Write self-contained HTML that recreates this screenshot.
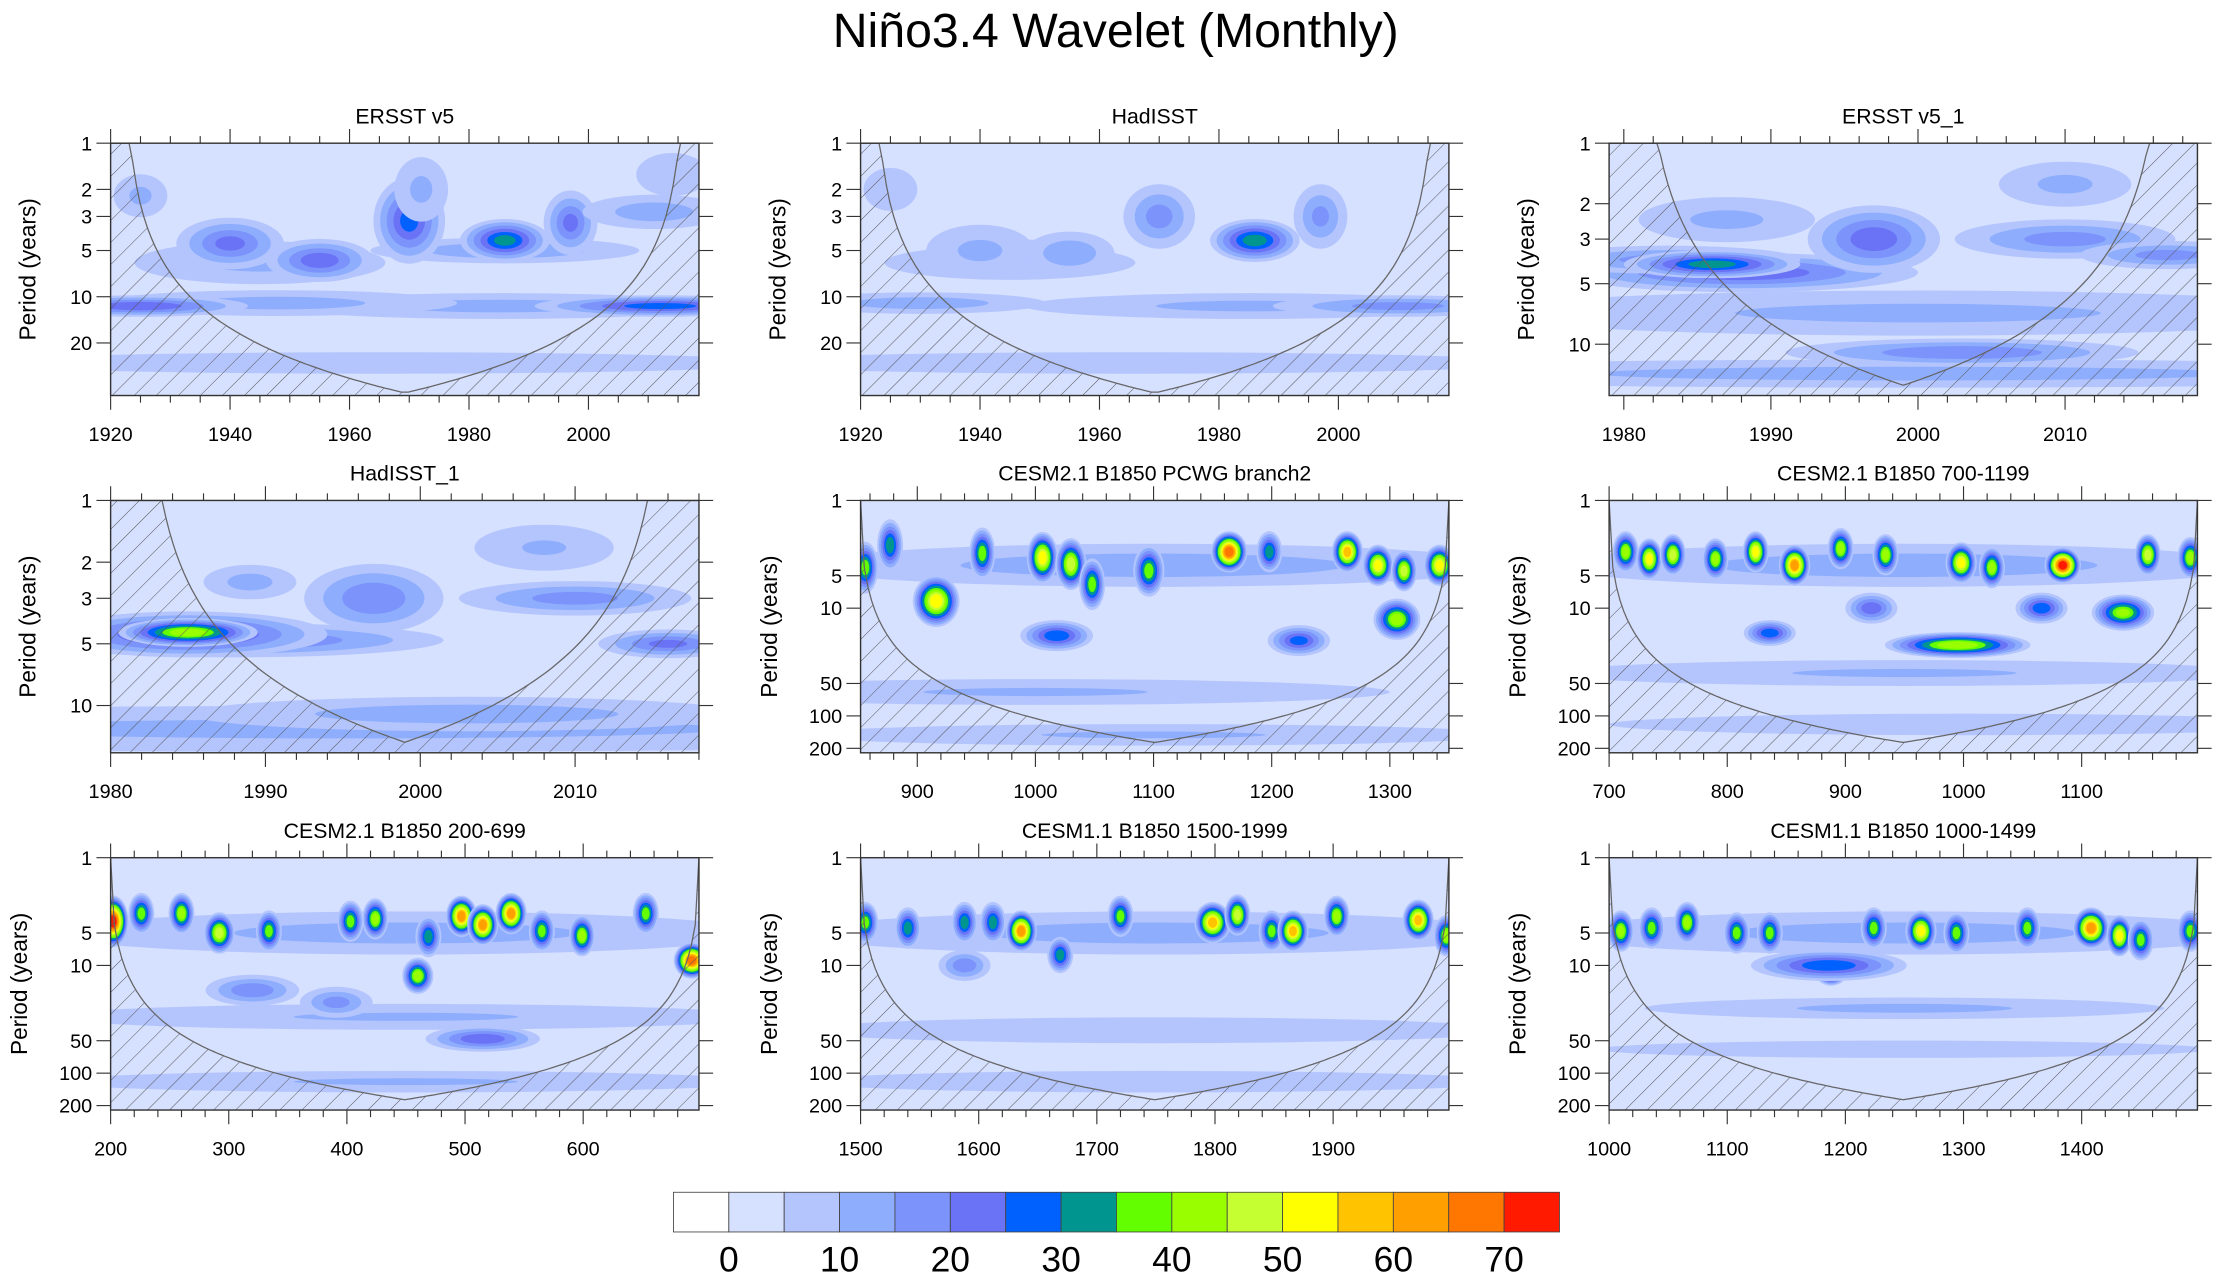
<!DOCTYPE html>
<html><head><meta charset="utf-8">
<style>
html,body{margin:0;padding:0;background:#fff;}
svg{display:block;font-family:"Liberation Sans",sans-serif;}
</style></head>
<body>
<svg id="fig" width="2223" height="1283" viewBox="0 0 1568 905" xmlns="http://www.w3.org/2000/svg">
<defs>
<pattern id="hatch" patternUnits="userSpaceOnUse" width="11" height="11" patternTransform="rotate(45)">
<line x1="0" y1="0" x2="0" y2="11" stroke="#555" stroke-width="0.7"/>
</pattern>
</defs>
<text x="787" y="33" font-size="34" text-anchor="middle">Niño3.4 Wavelet (Monthly)</text>
</svg>
<script>
const NS="http://www.w3.org/2000/svg";
const svg=document.getElementById('fig');
const colors=["#ffffff","#d6e0ff","#b4c5fe","#8eaefd","#7b93fb","#6a72f5","#0061ff","#00968f","#63ff00","#99ff00","#c5ff31","#ffff00","#ffc300","#ffa000","#ff7700","#ff1a00"];
const cbLabels=["0","10","20","30","40","50","60","70"];

const titles=["ERSST v5","HadISST","ERSST v5_1","HadISST_1","CESM2.1 B1850 PCWG branch2","CESM2.1 B1850 700-1199","CESM2.1 B1850 200-699","CESM1.1 B1850 1500-1999","CESM1.1 B1850 1000-1499"];
const xMin=[1920,1920,1979,1980,852,700,200,1500,1000];
const xMax=[2018.5,2018.5,2019,2018,1350,1198,698,1998,1498];
const pMax=[44,44,18,17,220,220,220,220,220];
const xTicks=[[1920,1940,1960,1980,2000],[1920,1940,1960,1980,2000],[1980,1990,2000,2010],[1980,1990,2000,2010],[900,1000,1100,1200,1300],[700,800,900,1000,1100],[200,300,400,500,600],[1500,1600,1700,1800,1900],[1000,1100,1200,1300,1400]];
const xMinorStep=[5,5,2,2,20,20,20,20,20];
const yTicks=[[1,2,3,5,10,20],[1,2,3,5,10,20],[1,2,3,5,10],[1,2,3,5,10],[1,5,10,50,100,200],[1,5,10,50,100,200],[1,5,10,50,100,200],[1,5,10,50,100,200],[1,5,10,50,100,200]];

// Blob data: time, period, value, half-width (yrs), half-height (decades)
const blobT=[
[1965,1945,1985,1948,1925,2012,1925,1986,1940,1955,1970,1986,1997,2011,1972,2014],
[1965,1945,1985,1930,2010,1948,1925,1940,1955,1970,1997,1986],
[2000,2000,2003,1988,1983,1986,1997,2010,2017,1987,2010],
[1995,2003,1988,1985,1985,1997,2010,2016,1989,2008],
[1100,1000,1100,856,877,916,955,1006,1030,1048,1096,1164,1198,1264,1290,1312,1342,1306,1018,1223],
[950,950,1000,714,734,754,790,824,857,896,934,998,1024,1084,1156,1192,995,1135,1066,836,922],
[450,450,450,202,226,260,292,334,403,424,460,469,497,515,539,565,599,653,692,515,320,391],
[1750,1750,1750,1504,1540,1588,1636,1669,1612,1720,1798,1819,1848,1866,1903,1972,1996,1588],
[1250,1250,1250,1010,1036,1066,1108,1136,1188,1224,1264,1294,1354,1408,1432,1450,1492,1186]
];
const blobP=[
[27,6,11.5,11,11.5,11.5,2.2,5,4.5,5.8,3.2,4.3,3.3,2.8,2,1.6],
[27,6,11.5,11,11.5,5.5,2,5,5.2,3,3,4.3],
[7,14,11,4.4,3.8,4,3,3,3.6,2.4,1.6],
[13,11,4.8,4.5,4.4,3,3,5,2.5,1.7],
[4,60,150,4.2,2.6,8.6,3.1,3.4,3.9,6,4.5,3,3,3,4,4.5,4,12.7,18,20],
[4,40,120,3,3.5,3.2,3.5,3,4,2.8,3.2,3.8,4.2,4,3.2,3.4,22,11,10,17,10],
[5,30,120,3.9,3.3,3.3,5,4.8,3.9,3.7,12.5,5.4,3.5,4.2,3.3,4.8,5.3,3.3,9,48,17,22],
[5,40,120,4,4.5,4,4.8,8,4,3.5,4,3.4,4.8,4.8,3.5,3.8,5.3,10],
[5,25,60,4.8,4.5,4,5,5,10.5,4.5,4.8,5,4.5,4.5,5.3,5.8,4.8,10]
];
const blobV=[
[10,12,13,13,25,28,12,15,22,24,27,32,22,14,12,10],
[10,11,12,14,18,11,10,12,15,18,17,33],
[12,13,20,25,18,33,24,18,18,12,12],
[12,14,22,30,44,20,18,22,13,11],
[14,11,11,40,35,55,40,55,50,40,40,70,35,60,55,50,55,45,30,28],
[14,11,10,45,55,50,45,55,65,45,45,55,45,75,50,45,45,42,30,30,25],
[13,11,11,75,40,45,50,40,40,45,45,35,65,65,65,40,45,40,70,25,20,18],
[13,10,10,40,35,35,65,35,35,40,60,50,40,60,45,60,45,20],
[13,12,8,45,40,45,40,40,60,40,55,40,40,65,55,40,40,30]
];
const blobW=[
[45,14,25,20,12,14,3,15,6,6,4,5,3,8,3,4],
[45,14,25,14,14,10,3,6,5,4,3,5],
[20,30,8,8,6,4,3,5,4,4,3],
[40,12,9,6,3,3,5,3,2,3],
[300,300,300,5,5,9,5,6,6,5,6,7,5,6,6,5,6,9,14,12],
[300,300,300,5,5,5,5,5,6,5,5,6,5,7,5,5,28,12,10,10,10],
[300,300,300,6,5,5,6,5,5,5,6,5,6,6,6,5,5,5,7,22,18,14],
[300,300,300,5,5,5,6,5,5,5,7,5,5,6,5,6,5,10],
[300,220,260,5,5,5,5,5,7,5,6,5,5,7,5,5,5,30]
];
const blobH=[
[0.05,0.1,0.06,0.06,0.05,0.05,0.1,0.06,0.12,0.1,0.2,0.1,0.15,0.08,0.15,0.1],
[0.05,0.08,0.06,0.05,0.05,0.08,0.1,0.12,0.1,0.15,0.15,0.1],
[0.08,0.05,0.05,0.07,0.05,0.05,0.12,0.07,0.05,0.08,0.08],
[0.08,0.06,0.06,0.08,0.05,0.12,0.06,0.05,0.06,0.08],
[0.2,0.12,0.1,0.1,0.1,0.1,0.1,0.1,0.1,0.1,0.1,0.08,0.08,0.08,0.08,0.08,0.08,0.08,0.06,0.06],
[0.2,0.12,0.1,0.08,0.08,0.08,0.08,0.08,0.08,0.08,0.08,0.08,0.08,0.07,0.08,0.08,0.05,0.07,0.06,0.05,0.06],
[0.2,0.12,0.1,0.1,0.08,0.08,0.08,0.08,0.08,0.08,0.07,0.08,0.08,0.08,0.08,0.08,0.08,0.08,0.07,0.05,0.06,0.06],
[0.2,0.12,0.1,0.08,0.08,0.08,0.08,0.07,0.08,0.08,0.08,0.08,0.08,0.08,0.08,0.08,0.08,0.06],
[0.2,0.1,0.08,0.08,0.08,0.08,0.08,0.08,0.07,0.08,0.08,0.08,0.08,0.08,0.08,0.08,0.08,0.06]
];

const colX=[78,607,1135], rowY=[101,353,605], PW=415, PH=178;
// display scaling of blob extents (styling)
const wMul=[1.5,1.5,1.5,1.5,2.2,2.2,2.2,2.2,2.2];
const hMul=[1.4,1.4,1.4,1.4,2.4,2.4,2.4,2.4,2.4];

function mk(tag,attrs,parent){const e=document.createElementNS(NS,tag);for(const k in attrs)e.setAttribute(k,attrs[k]);(parent||svg).appendChild(e);return e;}
function coiPeriod(i,d){ return i<4 ? Math.max(1,0.9*d-2) : Math.max(1,0.7*d+2*Math.min(d,1)); }

for(let i=0;i<9;i++){
  const x0=colX[i%3], y0=rowY[Math.floor(i/3)];
  const xs=t=>x0+(t-xMin[i])/(xMax[i]-xMin[i])*PW;
  const ys=p=>y0+Math.log10(p)/Math.log10(pMax[i])*PH;
  const g=mk('g',{});
  
  
  const cp=mk('clipPath',{id:'clip'+i},g);
  mk('rect',{x:x0,y:y0,width:PW,height:PH},cp);
  const t=mk('text',{x:x0+PW/2,y:y0-14,'font-size':15,'text-anchor':'middle'},g);
  t.textContent=titles[i];
  
  
  const plot=mk('g',{'clip-path':'url(#clip'+i+')'},g);
  mk('rect',{x:x0,y:y0,width:PW,height:PH,fill:colors[1]},plot);
  const pxPerYr=PW/(xMax[i]-xMin[i]), pxPerDec=PH/Math.log10(pMax[i]);
  const n=blobT[i].length;
  for(let b=0;b<n;b++){
    const v=blobV[i][b];
    const big=blobW[i][b]>=100;
    const wm=big?1:wMul[i], hm=big?1:hMul[i];
    const L=Math.floor(v/5);
    for(let k=1;k<=L;k++){
      const bd=5*k; if(bd>=v) break;
      const f=1-(bd-5)/(v-5)*0.82;
      const e=mk('ellipse',{cx:xs(blobT[i][b]),cy:ys(blobP[i][b]),rx:blobW[i][b]*pxPerYr*f*wm,ry:blobH[i][b]*pxPerDec*f*hm,fill:colors[Math.min(k+1,15)]},plot);
      
      
    }
  }
  let pts=[];
  const steps=160;
  for(let s=0;s<=steps;s++){
    const tt=xMin[i]+(xMax[i]-xMin[i])*s/steps;
    const d=Math.min(tt-xMin[i],xMax[i]-tt);
    let p=coiPeriod(i,d); p=Math.min(p,pMax[i]*0.95);
    pts.push(xs(tt).toFixed(1)+','+ys(p).toFixed(1));
  }
  const hp=mk('polygon',{points:x0+','+y0+' '+pts.join(' ')+' '+(x0+PW)+','+y0+' '+(x0+PW)+','+(y0+PH)+' '+x0+','+(y0+PH),fill:'url(#hatch)'},plot);
  
  
  const cl=mk('polyline',{points:pts.join(' '),fill:'none',stroke:'#666','stroke-width':0.9},plot);
  
  
  const fr=mk('rect',{x:x0,y:y0,width:PW,height:PH,fill:'none',stroke:'#333','stroke-width':1},g);
  
  
  for(let tv=Math.ceil(xMin[i]/xMinorStep[i])*xMinorStep[i];tv<=xMax[i];tv+=xMinorStep[i]){
    const xx=xs(tv);
    const major=xTicks[i].includes(tv);
    const len=major?10:5;
    mk('line',{x1:xx,x2:xx,y1:y0,y2:y0-len,stroke:'#333','stroke-width':0.8},g);
    mk('line',{x1:xx,x2:xx,y1:y0+PH,y2:y0+PH+len,stroke:'#333','stroke-width':0.8},g);
  }
  xTicks[i].forEach(tv=>{
    const l=mk('text',{x:xs(tv),y:y0+PH+32,'font-size':14,'text-anchor':'middle'},g);
    l.textContent=tv;
    
    
  });
  yTicks[i].forEach(pv=>{
    const yy=ys(pv);
    mk('line',{x1:x0-10,x2:x0,y1:yy,y2:yy,stroke:'#333','stroke-width':0.8},g);
    mk('line',{x1:x0+PW,x2:x0+PW+10,y1:yy,y2:yy,stroke:'#333','stroke-width':0.8},g);
    const l=mk('text',{x:x0-13,y:yy+5,'font-size':14,'text-anchor':'end'},g);
    l.textContent=pv;
    
    
  });
  const yl=mk('text',{x:0,y:0,'font-size':16,'text-anchor':'middle',transform:'translate('+(x0-(i>=4?59:53))+','+(y0+PH/2)+') rotate(-90)'},g);
  yl.textContent='Period (years)';
  
  
}

const cb=mk('g',{});


const cbX=475, cbW=625/16;
for(let k=0;k<16;k++){
  const r=mk('rect',{x:cbX+k*cbW,y:841,width:cbW,height:28,fill:colors[k],stroke:'#444','stroke-width':0.6},cb);
  
  
}
cbLabels.forEach((s,j)=>{
  const l=mk('text',{x:cbX+(1+2*j)*cbW,y:897,'font-size':25,'text-anchor':'middle'},cb);
  l.textContent=s;
  
  
});
</script>
</body></html>
